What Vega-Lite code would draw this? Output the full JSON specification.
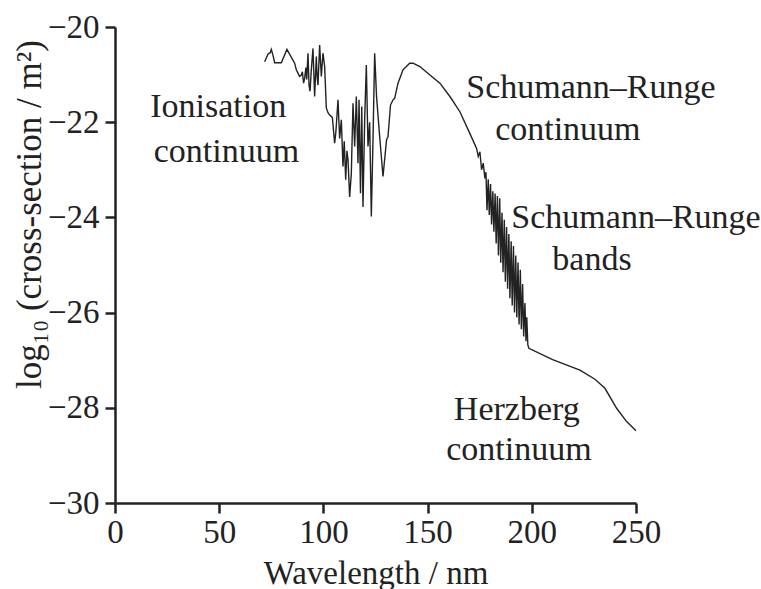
{
  "$schema": "https://vega.github.io/schema/vega-lite/v6.json",
  "autosize": "none",
  "padding": {"left": 115, "top": 27, "right": 125, "bottom": 86},
  "width": 521,
  "height": 476,
  "background": "white",
  "config": {
    "view": {"stroke": null},
    "axis": {
      "grid": false,
      "labelFlush": false,
      "labelOverlap": false,
      "domainColor": "#222",
      "domainWidth": 2.5,
      "tickColor": "#222",
      "tickWidth": 2.5,
      "tickSize": 10,
      "labelFont": "Liberation Serif",
      "labelFontSize": 33,
      "labelColor": "#222",
      "titleFont": "Liberation Serif",
      "titleFontSize": 33,
      "titleFontWeight": "normal",
      "titleColor": "#222"
    }
  },
  "datasets": {
    "curve": [
      {"wl": 71.8, "v": -20.73}, {"wl": 73.4, "v": -20.57}, {"wl": 74.5, "v": -20.54}, {"wl": 75.0, "v": -20.47},
      {"wl": 75.8, "v": -20.59}, {"wl": 76.6, "v": -20.75}, {"wl": 79.8, "v": -20.75}, {"wl": 82.5, "v": -20.47},
      {"wl": 86.2, "v": -20.76}, {"wl": 87.0, "v": -20.90}, {"wl": 87.8, "v": -20.97}, {"wl": 88.6, "v": -21.04},
      {"wl": 89.4, "v": -21.01}, {"wl": 89.9, "v": -20.94}, {"wl": 90.5, "v": -21.18}, {"wl": 91.0, "v": -21.08},
      {"wl": 91.6, "v": -20.85}, {"wl": 92.0, "v": -21.10}, {"wl": 92.6, "v": -20.55}, {"wl": 93.1, "v": -21.22},
      {"wl": 93.6, "v": -21.35}, {"wl": 94.2, "v": -20.90}, {"wl": 95.0, "v": -20.45}, {"wl": 95.8, "v": -21.46},
      {"wl": 96.6, "v": -20.62}, {"wl": 97.0, "v": -21.05}, {"wl": 97.4, "v": -21.22}, {"wl": 98.2, "v": -20.38},
      {"wl": 99.0, "v": -21.04}, {"wl": 99.8, "v": -20.55}, {"wl": 100.6, "v": -20.83}, {"wl": 101.4, "v": -21.70},
      {"wl": 102.2, "v": -21.80}, {"wl": 103.0, "v": -21.85}, {"wl": 104.3, "v": -21.90}, {"wl": 105.4, "v": -22.44},
      {"wl": 106.0, "v": -22.20}, {"wl": 107.0, "v": -21.53}, {"wl": 107.8, "v": -22.34}, {"wl": 108.6, "v": -21.95},
      {"wl": 109.4, "v": -22.93}, {"wl": 110.0, "v": -22.40}, {"wl": 110.7, "v": -23.21}, {"wl": 111.3, "v": -22.60},
      {"wl": 111.8, "v": -22.79}, {"wl": 112.6, "v": -23.57}, {"wl": 113.4, "v": -23.07}, {"wl": 114.2, "v": -21.60},
      {"wl": 115.0, "v": -22.51}, {"wl": 115.8, "v": -21.46}, {"wl": 116.6, "v": -22.86}, {"wl": 117.1, "v": -21.53},
      {"wl": 117.8, "v": -23.49}, {"wl": 118.4, "v": -21.67}, {"wl": 119.0, "v": -23.78}, {"wl": 119.8, "v": -21.95},
      {"wl": 120.6, "v": -20.80}, {"wl": 121.4, "v": -22.51}, {"wl": 122.2, "v": -22.00}, {"wl": 123.0, "v": -23.98},
      {"wl": 123.8, "v": -22.37}, {"wl": 124.6, "v": -20.55}, {"wl": 125.5, "v": -21.46}, {"wl": 127.0, "v": -22.30},
      {"wl": 128.6, "v": -23.14}, {"wl": 130.3, "v": -22.37}, {"wl": 131.0, "v": -22.30}, {"wl": 132.2, "v": -21.64},
      {"wl": 133.4, "v": -21.53}, {"wl": 134.2, "v": -21.50}, {"wl": 135.8, "v": -21.18}, {"wl": 138.2, "v": -20.90},
      {"wl": 141.4, "v": -20.76}, {"wl": 143.0, "v": -20.76}, {"wl": 146.3, "v": -20.83}, {"wl": 151.1, "v": -21.01},
      {"wl": 155.9, "v": -21.18}, {"wl": 160.7, "v": -21.46}, {"wl": 165.5, "v": -21.78}, {"wl": 170.2, "v": -22.23},
      {"wl": 173.5, "v": -22.55}, {"wl": 174.3, "v": -22.72}, {"wl": 175.1, "v": -22.62}, {"wl": 175.9, "v": -23.00},
      {"wl": 176.7, "v": -22.86}, {"wl": 177.5, "v": -23.18}, {"wl": 178.0, "v": -23.05}, {"wl": 178.5, "v": -23.85},
      {"wl": 179.1, "v": -23.20}, {"wl": 179.6, "v": -23.95}, {"wl": 180.2, "v": -23.30}, {"wl": 180.7, "v": -24.15},
      {"wl": 181.3, "v": -23.45}, {"wl": 181.8, "v": -24.30}, {"wl": 182.4, "v": -23.50}, {"wl": 182.9, "v": -24.55},
      {"wl": 183.5, "v": -23.55}, {"wl": 184.0, "v": -24.80}, {"wl": 184.6, "v": -23.60}, {"wl": 185.1, "v": -24.95},
      {"wl": 185.7, "v": -23.90}, {"wl": 186.2, "v": -25.15}, {"wl": 186.8, "v": -24.05}, {"wl": 187.3, "v": -25.35},
      {"wl": 187.9, "v": -24.20}, {"wl": 188.4, "v": -25.50}, {"wl": 189.0, "v": -24.35}, {"wl": 189.5, "v": -25.70},
      {"wl": 190.1, "v": -24.50}, {"wl": 190.6, "v": -25.85}, {"wl": 191.2, "v": -24.60}, {"wl": 191.7, "v": -26.00},
      {"wl": 192.3, "v": -24.80}, {"wl": 192.8, "v": -26.10}, {"wl": 193.4, "v": -24.95}, {"wl": 193.9, "v": -26.25},
      {"wl": 194.5, "v": -25.10}, {"wl": 195.0, "v": -26.35}, {"wl": 195.6, "v": -25.40}, {"wl": 196.1, "v": -26.50},
      {"wl": 196.7, "v": -25.80}, {"wl": 197.2, "v": -26.60}, {"wl": 197.6, "v": -26.10}, {"wl": 198.1, "v": -26.68},
      {"wl": 198.6, "v": -26.75}, {"wl": 210.0, "v": -26.99}, {"wl": 223.1, "v": -27.21}, {"wl": 230.3, "v": -27.40},
      {"wl": 235.1, "v": -27.59}, {"wl": 240.7, "v": -28.01}, {"wl": 245.5, "v": -28.29}, {"wl": 250.0, "v": -28.48}
    ],
    "notes": [
      {"wl": 49.5, "v": -21.68, "label": "Ionisation"},
      {"wl": 53.5, "v": -22.63, "label": "continuum"},
      {"wl": 228.4, "v": -21.28, "label": "Schumann–Runge"},
      {"wl": 217.3, "v": -22.16, "label": "continuum"},
      {"wl": 250.0, "v": -24.01, "label": "Schumann–Runge"},
      {"wl": 228.9, "v": -24.89, "label": "bands"},
      {"wl": 192.8, "v": -28.05, "label": "Herzberg"},
      {"wl": 193.8, "v": -28.89, "label": "continuum"}
    ]
  },
  "layer": [
    {
      "data": {"name": "curve"},
      "mark": {"type": "line", "color": "#222", "strokeWidth": 1.4},
      "encoding": {
        "x": {
          "field": "wl", "type": "quantitative",
          "scale": {"domain": [0, 250], "nice": false},
          "axis": {"values": [0, 50, 100, 150, 200, 250], "title": "Wavelength / nm", "labelPadding": 3, "titleBaseline": "alphabetic", "titleY": 80}
        },
        "y": {
          "field": "v", "type": "quantitative",
          "scale": {"domain": [-30, -20], "nice": false, "zero": false},
          "axis": {"values": [-30, -28, -26, -24, -22, -20], "title": "log₁₀ (cross-section / m²)", "titleFontSize": 35, "labelPadding": 6, "titleAngle": -90, "titleBaseline": "middle", "titleAlign": "center", "titleX": -86, "titleY": 187}
        }
      }
    },
    {
      "data": {"name": "notes"},
      "mark": {"type": "text", "font": "Liberation Serif", "fontSize": 34, "color": "#222", "align": "center", "baseline": "middle"},
      "encoding": {
        "x": {"field": "wl", "type": "quantitative"},
        "y": {"field": "v", "type": "quantitative"},
        "text": {"field": "label"}
      }
    }
  ]
}
